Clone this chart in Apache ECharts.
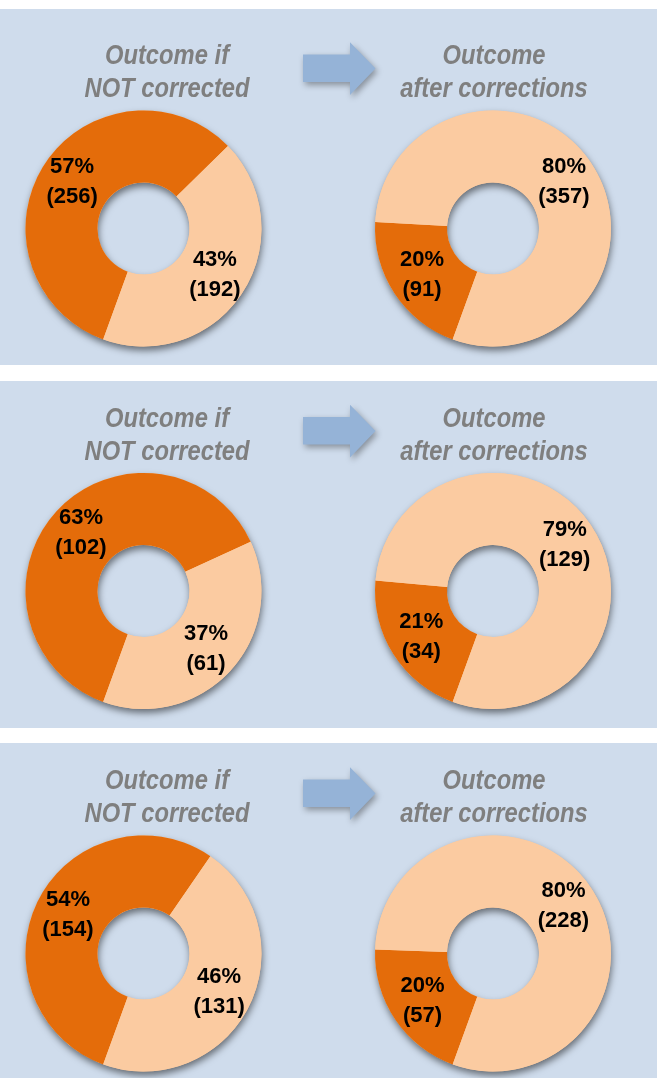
<!DOCTYPE html>
<html>
<head>
<meta charset="utf-8">
<script src="https://cdn.jsdelivr.net/npm/echarts@6/dist/echarts.min.js"></script>
<style>
html,body{margin:0;padding:0;background:#ffffff;}
#chart{width:657px;height:1078px;}
</style>
</head>
<body>
<div id="chart"></div>
<script>
// ---- data ----
const segmentNames = ['Segment A', 'Segment B'];
const titleBefore = 'Outcome if\nNOT corrected';
const titleAfter = 'Outcome\nafter corrections';
const beforeDark = [256, 102, 154];
const beforeLight = [192, 61, 131];
const afterDark = [91, 34, 57];
const afterLight = [357, 129, 228];

// ---- style / layout ----
const DARK = '#e46c0a';
const LIGHT = '#fbcba1';
const PANEL_BG = '#cfdcec';
const TITLE_COLOR = '#7f7f7f';
const ARROW = '#95b3d7';
const panelRects = [[9, 356], [381, 347], [743, 335]];
const panelShift = [0, 362.5, 725];
const centerY0 = 228.5;
const leftX = 143.5, rightX = 493;
const R = 118, R0 = 46;

const graphic = [];
const series = [];

panelRects.forEach(function (p) {
  graphic.push({
    type: 'rect', z: -10, silent: true,
    shape: { x: 0, y: p[0], width: 657, height: p[1] },
    style: { fill: PANEL_BG }
  });
});

function labelFormatter(params) {
  return Math.round(params.percent) + '%\n(' + params.value + ')';
}

function addDonut(cx, cy, dark, light) {
  // shadow ring underneath
  series.push({
    type: 'pie', silent: true, animation: false,
    center: [cx, cy], radius: [R0, R],
    label: { show: false }, labelLine: { show: false },
    itemStyle: {
      color: LIGHT,
      shadowBlur: 7, shadowOffsetX: 1, shadowOffsetY: 4,
      shadowColor: 'rgba(0,0,0,0.5)'
    },
    data: [{ value: 1, name: 'shadow' }]
  });
  series.push({
    type: 'pie', silent: true, animation: false,
    center: [cx, cy], radius: [R0, R],
    startAngle: 250, clockwise: true,
    avoidLabelOverlap: false,
    label: {
      show: true, position: 'inside',
      formatter: labelFormatter,
      color: '#000000', fontSize: 22, fontWeight: 'bold',
      fontFamily: '"Liberation Sans", Arial, sans-serif',
      lineHeight: 30
    },
    labelLine: { show: false },
    itemStyle: { borderWidth: 0 },
    data: [
      { value: dark, name: segmentNames[0], itemStyle: { color: DARK } },
      { value: light, name: segmentNames[1], itemStyle: { color: LIGHT } }
    ]
  });
}

panelShift.forEach(function (dy, i) {
  // titles
  graphic.push({
    type: 'text', x: 167, y: 73.5 + dy, scaleX: 0.88, silent: true,
    style: {
      text: titleBefore, fill: TITLE_COLOR,
      font: 'italic bold 27px "Liberation Sans", Arial, sans-serif',
      align: 'center', verticalAlign: 'middle', lineHeight: 33
    }
  });
  graphic.push({
    type: 'text', x: 494, y: 73.5 + dy, scaleX: 0.88, silent: true,
    style: {
      text: titleAfter, fill: TITLE_COLOR,
      font: 'italic bold 27px "Liberation Sans", Arial, sans-serif',
      align: 'center', verticalAlign: 'middle', lineHeight: 33
    }
  });
  // arrow
  graphic.push({
    type: 'polygon', silent: true, y: dy,
    shape: { points: [[303, 54.5], [350, 54.5], [350, 42.3], [375.5, 68.6], [350, 95], [350, 82], [303, 82]] },
    style: {
      fill: ARROW, shadowBlur: 6, shadowOffsetX: 2, shadowOffsetY: 3,
      shadowColor: 'rgba(0,0,0,0.35)'
    }
  });
  addDonut(leftX, centerY0 + dy, beforeDark[i], beforeLight[i]);
  addDonut(rightX, centerY0 + dy, afterDark[i], afterLight[i]);
});

const chart = echarts.init(document.getElementById('chart'), null, { renderer: 'canvas' });
chart.setOption({
  backgroundColor: '#ffffff',
  animation: false,
  graphic: graphic,
  series: series
});
</script>
</body>
</html>
